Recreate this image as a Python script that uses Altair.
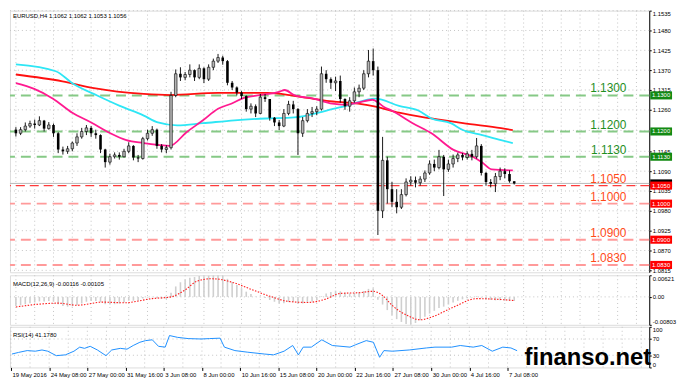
import json
import altair as alt
import pandas as pd

# ---------------- data ----------------
title_text = "EURUSD,H4  1.1062 1.1062 1.1053 1.1056"
macd_title = "MACD(12,26,9) -0.00116 -0.00105"
rsi_title = "RSI(14) 41.1780"
watermark = "finanso.net"

first_open = 1.1205
closes = [1.1195, 1.1205, 1.1215, 1.1222, 1.1218, 1.1230, 1.1208, 1.1218, 1.1195, 1.1150,
          1.1145, 1.1152, 1.1168, 1.1185, 1.1200, 1.1210, 1.1195, 1.1190, 1.1150, 1.1115,
          1.1130, 1.1135, 1.1130, 1.1145, 1.1160, 1.1128, 1.1125, 1.1180, 1.1195, 1.1205,
          1.1160, 1.1150, 1.1155, 1.1300, 1.1360, 1.1350, 1.1358, 1.1370, 1.1350, 1.1375,
          1.1345, 1.1378, 1.1395, 1.1405, 1.1395, 1.1335, 1.1322, 1.1308, 1.1298, 1.1262,
          1.1270, 1.1250, 1.1295, 1.1290, 1.1238, 1.1225, 1.1215, 1.1250, 1.1275, 1.1262,
          1.1195, 1.1230, 1.1250, 1.1255, 1.1262, 1.1360, 1.1345, 1.1335, 1.1340, 1.1290,
          1.1270, 1.1285, 1.1310, 1.1320, 1.1360, 1.1395, 1.1370, 1.0980, 1.1120, 1.1040,
          1.1005, 1.0990, 1.1025, 1.1060, 1.1065, 1.1058, 1.1068, 1.1085, 1.1110, 1.1100,
          1.1130, 1.1095, 1.1110, 1.1125, 1.1135, 1.1128, 1.1138, 1.1130, 1.1160, 1.1085,
          1.1060, 1.1055, 1.1075, 1.1090, 1.1082, 1.1062, 1.1056]
highs = [1.1212, 1.1212, 1.1225, 1.1230, 1.1233, 1.1242, 1.1232, 1.1226, 1.1222, 1.1198,
         1.1158, 1.1160, 1.1172, 1.1195, 1.1210, 1.1218, 1.1215, 1.1205, 1.1192, 1.1152,
         1.1138, 1.1142, 1.1142, 1.1152, 1.1170, 1.1162, 1.1135, 1.1185, 1.1205, 1.1215,
         1.1208, 1.1165, 1.1162, 1.1310, 1.1372, 1.1378, 1.1365, 1.1386, 1.1372, 1.1386,
         1.1378, 1.1386, 1.1402, 1.1415, 1.1410, 1.1398, 1.1340, 1.1325, 1.1312, 1.1300,
         1.1278, 1.1275, 1.1304, 1.1304, 1.1290, 1.1240, 1.1232, 1.1262, 1.1285, 1.1285,
         1.1265, 1.1240, 1.1262, 1.1268, 1.1270, 1.1380, 1.1370, 1.1350, 1.1352, 1.1355,
         1.1292, 1.1295, 1.1322, 1.1330, 1.1370, 1.1426, 1.1430, 1.1380, 1.1185, 1.1130,
         1.1060, 1.1040, 1.1040, 1.1070, 1.1076, 1.1075, 1.1076, 1.1092, 1.1120, 1.1122,
         1.1149, 1.1135, 1.1122, 1.1136, 1.1141, 1.1140, 1.1145, 1.1149, 1.1182, 1.1165,
         1.1088, 1.1068, 1.1085, 1.1100, 1.1098, 1.1092, 1.1062]
lows = [1.1186, 1.1190, 1.1200, 1.1210, 1.1208, 1.1215, 1.1200, 1.1205, 1.1185, 1.1140,
        1.1136, 1.1138, 1.1145, 1.1160, 1.1180, 1.1190, 1.1185, 1.1180, 1.1140, 1.1100,
        1.1108, 1.1125, 1.1122, 1.1128, 1.1140, 1.1120, 1.1115, 1.1122, 1.1175, 1.1188,
        1.1152, 1.1142, 1.1140, 1.1150, 1.1295, 1.1340, 1.1342, 1.1350, 1.1340, 1.1345,
        1.1334, 1.1340, 1.1370, 1.1390, 1.1385, 1.1328, 1.1315, 1.1300, 1.1290, 1.1255,
        1.1250, 1.1240, 1.1248, 1.1282, 1.1230, 1.1215, 1.1204, 1.1212, 1.1245, 1.1250,
        1.1135, 1.1185, 1.1225, 1.1240, 1.1245, 1.1258, 1.1335, 1.1318, 1.1312, 1.1280,
        1.1260, 1.1255, 1.1280, 1.1295, 1.1315, 1.1350, 1.1355, 1.0913, 1.0960, 1.1000,
        1.0990, 1.0973, 1.0985, 1.1020, 1.1050, 1.1045, 1.1050, 1.1060, 1.1080, 1.1090,
        1.1095, 1.1021, 1.1088, 1.1100, 1.1115, 1.1120, 1.1122, 1.1120, 1.1125, 1.1078,
        1.1050, 1.1045, 1.1032, 1.1065, 1.1070, 1.1058, 1.1053]

macd = [-0.0026, -0.0024, -0.0021, -0.0018, -0.0016, -0.0013, -0.0013, -0.0012, -0.0014, -0.0021,
        -0.0026, -0.0028, -0.0027, -0.0024, -0.0019, -0.0014, -0.0012, -0.0012, -0.0015, -0.0021,
        -0.0022, -0.0021, -0.0019, -0.0016, -0.0011, -0.0011, -0.0011, -0.0005, -0.0002, -0.0001,
        -0.0003, -0.0005, -0.0006,
        0.0012, 0.0030, 0.0042, 0.0050, 0.0055, 0.0057, 0.0060, 0.0059, 0.0061, 0.0062,
        0.0062, 0.0060, 0.0052, 0.0043, 0.0034, 0.0025, 0.0015, 0.0008, 0.0001, -0.0001,
        -0.0003, -0.0009, -0.0014, -0.0018, -0.0018, -0.0015, -0.0014, -0.0020, -0.0019, -0.0016,
        -0.0013, -0.0010, 0.0002, 0.0010, 0.0014, 0.0018, 0.0016, 0.0012, 0.0010, 0.0011,
        0.0013, 0.0017, 0.0023, 0.0025,
        -0.0008, -0.0022, -0.0038, -0.0052, -0.0064, -0.0072, -0.0078, -0.0080, -0.0075, -0.0067,
        -0.0057, -0.0048, -0.0040, -0.0032, -0.0028, -0.0022, -0.0016, -0.0011, -0.0007, -0.0004,
        -0.0002, 0.0002, -0.0002, -0.0006, -0.0009, -0.0010, -0.0010, -0.0011, -0.0011, -0.00116]

signal_i = [0, 9, 13, 18.5, 23, 29, 33, 36, 38.5, 41.5, 43, 46, 50, 54, 58, 62, 66, 69, 73,
            76, 78, 80, 83.5, 86, 88, 93, 98, 101, 106]
signal_v = [-0.0029, -0.0018, -0.0024, -0.0015, -0.0017, -0.0005, 0.0000, 0.0020, 0.0045, 0.0052,
            0.0051, 0.0042, 0.0022, 0.0002, -0.0013, -0.0016, -0.0006, 0.0010, 0.0012,
            0.0016, 0.0004, -0.0024, -0.0055, -0.0066, -0.0060, -0.0030, -0.0005, -0.0006, -0.00105]

rsi_i = [0.2, 1.6, 3.4, 5.1, 6.5, 7.7, 9.5, 11.4, 13.2, 14.4, 15.4, 16.6, 18.1, 19.9, 21.1,
         22.9, 24.3, 25.6, 27, 28.2, 29.6, 30.9, 32.3, 33.2, 34.9, 37.1, 39.8, 41.6, 43.8,
         44.7, 46.9, 49.6, 53.1, 55, 57.2, 59, 60.2, 61.2, 62.9, 65.1, 67.3, 71, 72.2, 74.4,
         75.9, 77.2, 78.1, 79.9, 83.4, 87, 88.8, 92.3, 94.1, 96.8, 98.6, 100.8, 103, 104.7, 106]
rsi_v = [33, 37, 41.5, 40, 43, 40, 29, 31, 40, 50, 47, 52, 43, 29, 43,
         47, 45, 54, 62, 66, 68, 52, 50, 78.5, 74, 71, 70, 71, 72,
         50, 41.5, 37.5, 33, 31, 40, 54, 31, 50, 50, 68, 54, 50, 56, 66,
         62, 25, 41.5, 40, 43, 48, 50, 50, 54, 50, 54, 40, 50, 48, 41.18]

ma_fast_i = [0, 3.9, 7.9, 12, 16, 20.1, 23.5, 27.2, 30.2, 32.7, 36.3, 39.8, 43, 45.8, 48.5,
             51.9, 56, 57.2, 59.2, 63.3, 67.3, 70.2, 72.8, 75.9, 76.5, 78.3, 79.9, 84.4, 88.4,
             93.1, 97.2, 99.2, 101.2, 105.7]
ma_fast_v = [1.1334, 1.1318, 1.1291, 1.1252, 1.1225, 1.1195, 1.1176, 1.1168, 1.1163, 1.1160,
             1.1198, 1.1231, 1.1263, 1.1277, 1.1293, 1.1301, 1.1310, 1.1315, 1.1301, 1.1291,
             1.1277, 1.1274, 1.1280, 1.1288, 1.1285, 1.1268, 1.1258, 1.1223, 1.1195, 1.1149,
             1.1130, 1.1114, 1.1095, 1.1092]
ma_mid_i = [0, 8.5, 12, 17.4, 22.1, 27.2, 30.2, 34.3, 39.8, 46.5, 53.1, 59.2, 66.1, 70.2,
            76.5, 81.5, 85.6, 88.4, 92.5, 95.1, 99.2, 103.2, 105.7]
ma_mid_v = [1.1386, 1.1367, 1.1334, 1.1299, 1.1271, 1.1244, 1.1225, 1.1217, 1.1223, 1.1231,
            1.1236, 1.1239, 1.1258, 1.1271, 1.1291, 1.1271, 1.1258, 1.1236, 1.1223, 1.1204,
            1.1190, 1.1176, 1.1168]
ma_slow_i = [0, 9.9, 16.6, 27.2, 32.9, 43, 53.5, 59.2, 66.1, 72.8, 76.5, 81.5, 88.4, 95.1,
             103.2, 105.7]
ma_slow_v = [1.1358, 1.1339, 1.1320, 1.1304, 1.1301, 1.1307, 1.1307, 1.1299, 1.1285, 1.1277,
             1.1269, 1.1252, 1.1236, 1.1223, 1.1209, 1.1204]

green_levels = [1.1300, 1.1200, 1.1130]
red_thin_levels = [1.1050]
red_levels = [1.1000, 1.0900, 1.0830]
bid_price = 1.1056

price_ticks = [1.1535, 1.1480, 1.1425, 1.1370, 1.1315, 1.1260, 1.1145, 1.1090, 1.1035,
               1.0980, 1.0925, 1.0870, 1.0815]
hidden_grid = [1.1203]

x_label_idx = [0, 8, 16, 24, 32, 40, 48, 56, 64, 72, 80, 88, 96, 104]
x_labels = ["19 May 2016", "24 May 08:00", "27 May 00:00", "31 May 16:00", "3 Jun 08:00",
            "8 Jun 00:00", "10 Jun 16:00", "15 Jun 08:00", "20 Jun 00:00", "22 Jun 16:00",
            "27 Jun 08:00", "30 Jun 00:00", "4 Jul 16:00", "7 Jul 08:00"]
vgrid_idx = list(range(0, 134, 4))

macd_ticks = [0.00621, 0.0, -0.00803]
rsi_ticks = [100, 70, 30, 0]
rsi_levels = [70, 30]

assert len(closes) == len(highs) == len(lows) == len(macd)

# ---------------- frames ----------------
n = len(closes)
opens = [first_open] + closes[:-1]
candles = pd.DataFrame({"i": list(range(n)), "open": opens, "high": highs,
                        "low": lows, "close": closes})
up = candles[candles["close"] >= candles["open"]]
down = candles[candles["close"] < candles["open"]]

FONT = "Liberation Sans"
W = 645
H_MAIN, H_MACD, H_RSI = 264, 50, 41
TAG_X = W + 12

xscale = alt.Scale(domain=[-0.203, 133.67], nice=False, zero=False)
yscale = alt.Scale(domain=[1.08096, 1.1535], nice=False, zero=False)
mscale = alt.Scale(domain=[-0.00803, 0.00621], nice=False, zero=False)
rscale = alt.Scale(domain=[0, 100], nice=False, zero=False)

yaxis_main = alt.Axis(orient="right", values=price_ticks, format=".4f", title=None, grid=False,
                      labelFontSize=6, labelFont=FONT, labelColor="black", tickSize=2,
                      tickColor="black", domainColor="black", labelPadding=1, labelFlush=True)
yaxis_macd = alt.Axis(orient="right", values=macd_ticks, title=None, grid=False,
                      labelExpr="datum.value == 0 ? '0.00' : (datum.value < 0 ? '-' + format(-datum.value, '.5f') : format(datum.value, '.5f'))",
                      labelFontSize=6, labelFont=FONT, labelColor="black", tickSize=2,
                      tickColor="black", domainColor="black", labelPadding=1, labelFlush=True)
yaxis_rsi = alt.Axis(orient="right", values=rsi_ticks, title=None, grid=False, format="d",
                     labelFontSize=6, labelFont=FONT, labelColor="black", tickSize=2,
                     tickColor="black", domainColor="black", labelPadding=1, labelFlush=True)
xaxis_bottom = alt.Axis(values=x_label_idx,
                        labelExpr=json.dumps(x_labels) + "[round(datum.value / 8)]",
                        labelAlign="left", labelFontSize=6, labelFont=FONT, labelColor="black",
                        tickSize=3, tickColor="black", domain=False, grid=False, title=None,
                        labelPadding=1, labelOffset=1, labelOverlap=False)


def X(field, axis=None):
    return alt.X(field, type="quantitative", scale=xscale, axis=axis)


def YM(field):
    return alt.Y(field, type="quantitative", scale=yscale, axis=yaxis_main)


GRID = dict(color="#c4c4c4", strokeDash=[1, 3], strokeWidth=1)

# ---------------- main panel ----------------
hgrid = alt.Chart(pd.DataFrame({"p": price_ticks + hidden_grid})).mark_rule(**GRID).encode(y=YM("p"))
vgrid = alt.Chart(pd.DataFrame({"g": vgrid_idx})).mark_rule(**GRID).encode(x=X("g"))

lv_green = alt.Chart(pd.DataFrame({"p": green_levels})).mark_rule(
    color="#86c986", strokeWidth=2, strokeDash=[10, 6]).encode(y=YM("p"))
lv_red_thin = alt.Chart(pd.DataFrame({"p": red_thin_levels})).mark_rule(
    color="#ff3b3b", strokeWidth=1.2, strokeDash=[9, 5]).encode(y=YM("p"))
lv_red = alt.Chart(pd.DataFrame({"p": red_levels})).mark_rule(
    color="#ff9a9a", strokeWidth=2, strokeDash=[10, 6]).encode(y=YM("p"))
bid_line = alt.Chart(pd.DataFrame({"p": [bid_price]})).mark_rule(
    color="#b8b8b8", strokeWidth=1).encode(y=YM("p"))


def ma_layer(idx, vals, color):
    return alt.Chart(pd.DataFrame({"i": idx, "v": vals})).mark_line(
        color=color, strokeWidth=1.8, interpolate="monotone").encode(x=X("i"), y=YM("v"))


ma_slow = ma_layer(ma_slow_i, ma_slow_v, "#ff1010")
ma_mid = ma_layer(ma_mid_i, ma_mid_v, "#2ee6f5")
ma_fast = ma_layer(ma_fast_i, ma_fast_v, "#ff1a90")

wicks = alt.Chart(candles).mark_rule(color="black", strokeWidth=0.9).encode(
    x=X("i"), y=YM("low"), y2="high")
bodies_up = alt.Chart(up).mark_bar(size=2.6, color="#b4b4b4", stroke="black",
                                   strokeWidth=0.6).encode(x=X("i"), y=YM("open"), y2="close")
bodies_down = alt.Chart(down).mark_bar(size=2.6, color="#000000").encode(
    x=X("i"), y=YM("open"), y2="close")

lab_df_g = pd.DataFrame({"p": green_levels, "t": [f"{v:.4f}" for v in green_levels]})
lab_df_r = pd.DataFrame({"p": red_thin_levels + red_levels,
                         "t": [f"{v:.4f}" for v in red_thin_levels + red_levels]})
labels_g = alt.Chart(lab_df_g).mark_text(align="right", baseline="alphabetic", dy=-3,
                                         fontSize=12, font=FONT, color="#1f8f1f").encode(
    x=alt.value(W - 23), y=YM("p"), text="t:N")
labels_r = alt.Chart(lab_df_r).mark_text(align="right", baseline="alphabetic", dy=-3,
                                         fontSize=12, font=FONT, color="#ff4a1a").encode(
    x=alt.value(W - 23), y=YM("p"), text="t:N")

tag_shape = "M-1,-0.37L1,-0.37L1,0.37L-1,0.37Z"


def tag_layers(prices, color, with_text=True):
    df = pd.DataFrame({"p": prices, "t": [f"{v:.4f}" for v in prices]})
    box = alt.Chart(df).mark_point(shape=tag_shape, size=484, filled=True, opacity=1,
                                   color=color, strokeWidth=0).encode(
        x=alt.value(TAG_X), y=YM("p"))
    if not with_text:
        return [box]
    txt = alt.Chart(df).mark_text(align="center", baseline="middle", fontSize=6,
                                  font=FONT, color="white").encode(
        x=alt.value(TAG_X), y=YM("p"), text="t:N")
    return [box, txt]


tags = (tag_layers([bid_price], "#000000", with_text=False)
        + tag_layers(green_levels, "#138a13")
        + tag_layers(red_thin_levels + red_levels, "#ff0000"))

title_layer = alt.Chart(pd.DataFrame({"t": [title_text]})).mark_text(
    align="left", baseline="middle", fontSize=6, font=FONT, color="black").encode(
    x=alt.value(3), y=alt.value(5), text="t:N")

main = alt.layer(hgrid, vgrid, lv_green, lv_red_thin, lv_red, bid_line, ma_slow, ma_mid,
                 ma_fast, wicks, bodies_up, bodies_down, labels_g, labels_r, *tags,
                 title_layer).properties(width=W, height=H_MAIN)

# ---------------- MACD panel ----------------


def YMC(field):
    return alt.Y(field, type="quantitative", scale=mscale, axis=yaxis_macd)


macd_df = pd.DataFrame({"i": list(range(n)), "m": macd})
m_vgrid = alt.Chart(pd.DataFrame({"g": vgrid_idx})).mark_rule(**GRID).encode(x=X("g"))
m_zero = alt.Chart(pd.DataFrame({"z": [0.0]})).mark_rule(**GRID).encode(y=YMC("z"))
m_bars = alt.Chart(macd_df).mark_bar(size=1.6, color="#cfcfcf").encode(
    x=X("i"), y=YMC("m"), y2=alt.datum(0))
m_sig = alt.Chart(pd.DataFrame({"i": signal_i, "s": signal_v})).mark_line(
    color="#ff1a1a", strokeWidth=1.1, strokeDash=[1.5, 1.5], interpolate="monotone").encode(
    x=X("i"), y=YMC("s"))
m_title = alt.Chart(pd.DataFrame({"t": [macd_title]})).mark_text(
    align="left", baseline="middle", fontSize=6, font=FONT, color="black").encode(
    x=alt.value(3), y=alt.value(9), text="t:N")
macd_panel = alt.layer(m_vgrid, m_zero, m_bars, m_sig, m_title).properties(width=W, height=H_MACD)

# ---------------- RSI panel ----------------


def YR(field):
    return alt.Y(field, type="quantitative", scale=rscale, axis=yaxis_rsi)


def XB(field):
    return alt.X(field, type="quantitative", scale=xscale, axis=xaxis_bottom)


r_vgrid = alt.Chart(pd.DataFrame({"g": vgrid_idx})).mark_rule(**GRID).encode(x=XB("g"))
r_lv = alt.Chart(pd.DataFrame({"l": rsi_levels})).mark_rule(**GRID).encode(y=YR("l"))
r_line = alt.Chart(pd.DataFrame({"i": rsi_i, "r": rsi_v})).mark_line(
    color="#1e90ff", strokeWidth=1).encode(x=XB("i"), y=YR("r"))
r_title = alt.Chart(pd.DataFrame({"t": [rsi_title]})).mark_text(
    align="left", baseline="middle", fontSize=6, font=FONT, color="black").encode(
    x=alt.value(3), y=alt.value(8), text="t:N")
r_mark = alt.Chart(pd.DataFrame({"t": [watermark]})).mark_text(
    align="right", baseline="alphabetic", fontSize=24, fontWeight="bold", font=FONT,
    color="black").encode(x=alt.value(W + 2), y=alt.value(39), text="t:N")
rsi_panel = alt.layer(r_vgrid, r_lv, r_line, r_title, r_mark).properties(width=W, height=H_RSI)

chart = alt.vconcat(main, macd_panel, rsi_panel, spacing=0).properties(
    padding={"left": 0, "top": 0, "right": 0, "bottom": 0}
).configure_view(stroke="#505050", strokeWidth=1).configure(background="white")

chart.save("out.html", embed_options={"renderer": "svg", "actions": False})
